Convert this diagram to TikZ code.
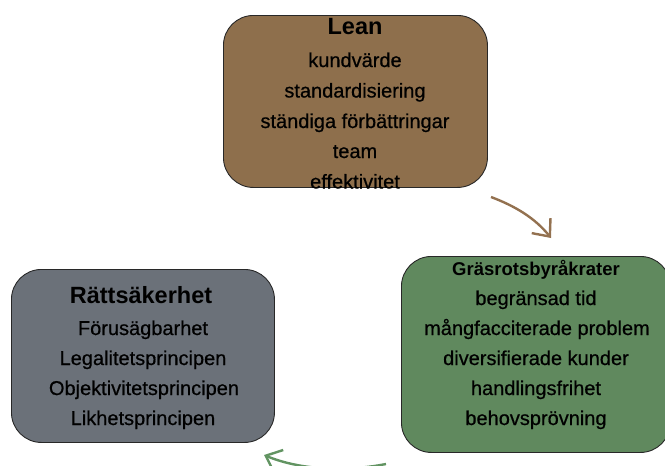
\documentclass[tikz,border=0pt]{standalone}
\usepackage{fontspec}
\setmainfont{Liberation Sans}
\newfontfamily\medfont{Liberation Sans}[FakeBold=0.6]
\usetikzlibrary{arrows.meta}
\definecolor{leanfill}{RGB}{142,111,76}
\definecolor{grasfill}{RGB}{96,137,94}
\definecolor{rattfill}{RGB}{107,113,121}
\definecolor{boxline}{RGB}{40,40,40}
\definecolor{brownarrow}{RGB}{147,113,80}
\definecolor{greenarrow}{RGB}{98,148,98}
\begin{document}
\begin{tikzpicture}[x=1pt,y=-1pt,
  box/.style={draw=boxline, line width=0.9pt, rounded corners=30pt, anchor=north west, inner sep=0pt},
  ln/.style={anchor=base, inner sep=0pt, font=\medfont\fontsize{20}{24}\selectfont},
  ttl/.style={anchor=base, inner sep=0pt, font=\fontsize{23.5}{27}\selectfont\bfseries},
  ttlsmall/.style={anchor=base, inner sep=0pt, font=\fontsize{18.5}{22}\selectfont\bfseries},
  cyc/.style={line width=2.4pt, -{Straight Barb[length=14pt,width=24pt,line width=2.4pt]}}]
\useasboundingbox (0,0) rectangle (665,466);
\clip (0,0) rectangle (665,466);
% boxes
\node[box, fill=leanfill, minimum width=264pt, minimum height=172pt] (lean) at (223,15) {};
\node[box, fill=grasfill, minimum width=269pt, minimum height=196pt] (gras) at (401,256) {};
\node[box, fill=rattfill, minimum width=263pt, minimum height=173pt] (ratt) at (11,269) {};
% Lean text
\node[ttl] (leant) at (355,34) {Lean};
\node[ln] (lean1) at (355,67) {kundvärde};
\node[ln] (lean2) at (355,97.5) {standardisiering};
\node[ln] (lean3) at (355,128) {ständiga förbättringar};
\node[ln] (lean4) at (355,158) {team};
\node[ln] (lean5) at (355,188.5) {effektivitet};
% Gräsrots text
\node[ttlsmall] (grast) at (536,275) {Gräsrotsbyråkrater};
\node[ln] (gras1) at (536,305) {begränsad tid};
\node[ln] (gras2) at (537,335) {mångfacciterade problem};
\node[ln] (gras3) at (536,365) {diversifierade kunder};
\node[ln] (gras4) at (536,395) {handlingsfrihet};
\node[ln] (gras5) at (536,425) {behovsprövning};
% Rättsäkerhet text
\node[ttl] (rattt) at (141,303) {Rättsäkerhet};
\node[ln] (ratt1) at (143,335) {Förusägbarhet};
\node[ln] (ratt2) at (143,365) {Legalitetsprincipen};
\node[ln] (ratt3) at (144,395) {Objektivitetsprincipen};
\node[ln] (ratt4) at (143,425) {Likhetsprincipen};
% arrows
\coordinate (a1s) at (491,197);
\coordinate (a1e) at (551,238);
\draw[cyc, draw=brownarrow] (a1s) .. controls (515,206) and (535,218) .. (a1e);
\coordinate (a2s) at (386,464);
\coordinate (a2e) at (264,455);
\draw[cyc, draw=greenarrow] (a2s) .. controls (345,472) and (300,470) .. (a2e);
\end{tikzpicture}
\end{document}
